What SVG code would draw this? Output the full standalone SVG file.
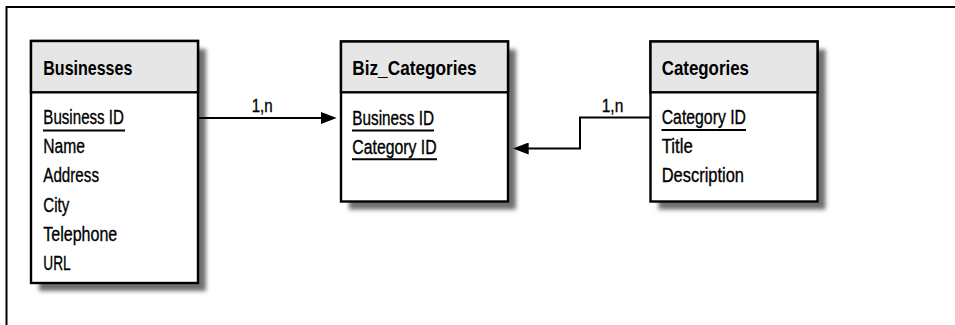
<svg xmlns="http://www.w3.org/2000/svg" width="955" height="325" viewBox="0 0 955 325">
  <defs>
    <style>
      .frame { fill: none; stroke: #000; stroke-width: 2; }
      .shadow { fill: #707070; filter: url(#soft); }
      .body { fill: #fff; stroke: #000; stroke-width: 2.4; }
      .head { fill: #e6e6e6; stroke: #000; stroke-width: 2.4; }
      .title { font-family: "Liberation Sans", Arial, sans-serif; font-weight: bold; font-size: 20.5px; fill: #000; }
      .field { font-family: "Liberation Sans", Arial, sans-serif; font-size: 20.5px; fill: #000; stroke: #000; stroke-width: 0.35; }
      .label { font-family: "Liberation Sans", Arial, sans-serif; font-size: 18px; fill: #000; stroke: #000; stroke-width: 0.3; }
      .key { stroke: #000; stroke-width: 2; }
      .conn { fill: none; stroke: #000; stroke-width: 2; marker-end: url(#arrow); }
    </style>
    <filter id="soft" x="-20%" y="-20%" width="140%" height="140%">
      <feGaussianBlur stdDeviation="2"/>
    </filter>
    <marker id="arrow" markerUnits="userSpaceOnUse" markerWidth="16" markerHeight="12" refX="8" refY="6" orient="auto">
      <path d="M0,0 L16,6 L0,12 z" fill="#000"/>
    </marker>
  </defs>

  <!-- outer frame (top and left edges) -->
  <path class="frame" d="M6.5,325 V7 H955"/>

  <!-- Businesses table -->
  <g id="businesses">
    <rect class="shadow" x="39" y="49" width="167" height="242"/>
    <rect class="body" x="31" y="41" width="167" height="242"/>
    <rect class="head" x="31" y="41" width="167" height="51.3"/>
    <text class="title" x="43.3" y="74.5" textLength="89" lengthAdjust="spacingAndGlyphs">Businesses</text>
    <text class="field" x="43.3" y="124" textLength="80.7" lengthAdjust="spacingAndGlyphs">Business ID</text>
    <line class="key" x1="43" y1="130.5" x2="125" y2="130.5"/>
    <text class="field" x="43.3" y="153.2" textLength="41.7" lengthAdjust="spacingAndGlyphs">Name</text>
    <text class="field" x="43.3" y="182.4" textLength="55.7" lengthAdjust="spacingAndGlyphs">Address</text>
    <text class="field" x="43.3" y="211.6" textLength="26" lengthAdjust="spacingAndGlyphs">City</text>
    <text class="field" x="43.3" y="240.8" textLength="74" lengthAdjust="spacingAndGlyphs">Telephone</text>
    <text class="field" x="43.3" y="270" textLength="27.4" lengthAdjust="spacingAndGlyphs">URL</text>
  </g>

  <!-- Biz_Categories table -->
  <g id="biz-categories">
    <rect class="shadow" x="349" y="49.5" width="167" height="160"/>
    <rect class="body" x="341" y="41.5" width="167" height="160"/>
    <rect class="head" x="341" y="41.5" width="167" height="50.8"/>
    <text class="title" x="352.3" y="74.5" textLength="124.4" lengthAdjust="spacingAndGlyphs">Biz_Categories</text>
    <text class="field" x="352.3" y="124.5" textLength="81.7" lengthAdjust="spacingAndGlyphs">Business ID</text>
    <line class="key" x1="352" y1="130.5" x2="434" y2="130.5"/>
    <text class="field" x="352.3" y="153.5" textLength="84.4" lengthAdjust="spacingAndGlyphs">Category ID</text>
    <line class="key" x1="352" y1="159.3" x2="437" y2="159.3"/>
  </g>

  <!-- Categories table -->
  <g id="categories">
    <rect class="shadow" x="658.5" y="49.5" width="167" height="160"/>
    <rect class="body" x="650.5" y="41.5" width="167" height="160"/>
    <rect class="head" x="650.5" y="41.5" width="167" height="50.8"/>
    <text class="title" x="661.7" y="74.5" textLength="87.3" lengthAdjust="spacingAndGlyphs">Categories</text>
    <text class="field" x="661.7" y="124" textLength="84.3" lengthAdjust="spacingAndGlyphs">Category ID</text>
    <line class="key" x1="661.5" y1="130" x2="746" y2="130"/>
    <text class="field" x="661.7" y="153.2" textLength="31" lengthAdjust="spacingAndGlyphs">Title</text>
    <text class="field" x="661.7" y="182.4" textLength="82.3" lengthAdjust="spacingAndGlyphs">Description</text>
  </g>

  <!-- connectors, drawn over the table shadows -->
  <g id="connectors">
    <path class="conn" d="M199,118 H328.7"/>
    <text class="label" x="251.7" y="111.7" textLength="21" lengthAdjust="spacingAndGlyphs">1,n</text>
    <path class="conn" d="M650,117.5 H580 V148.5 H520.7"/>
    <text class="label" x="601.7" y="111.7" textLength="21.6" lengthAdjust="spacingAndGlyphs">1,n</text>
  </g>
</svg>
